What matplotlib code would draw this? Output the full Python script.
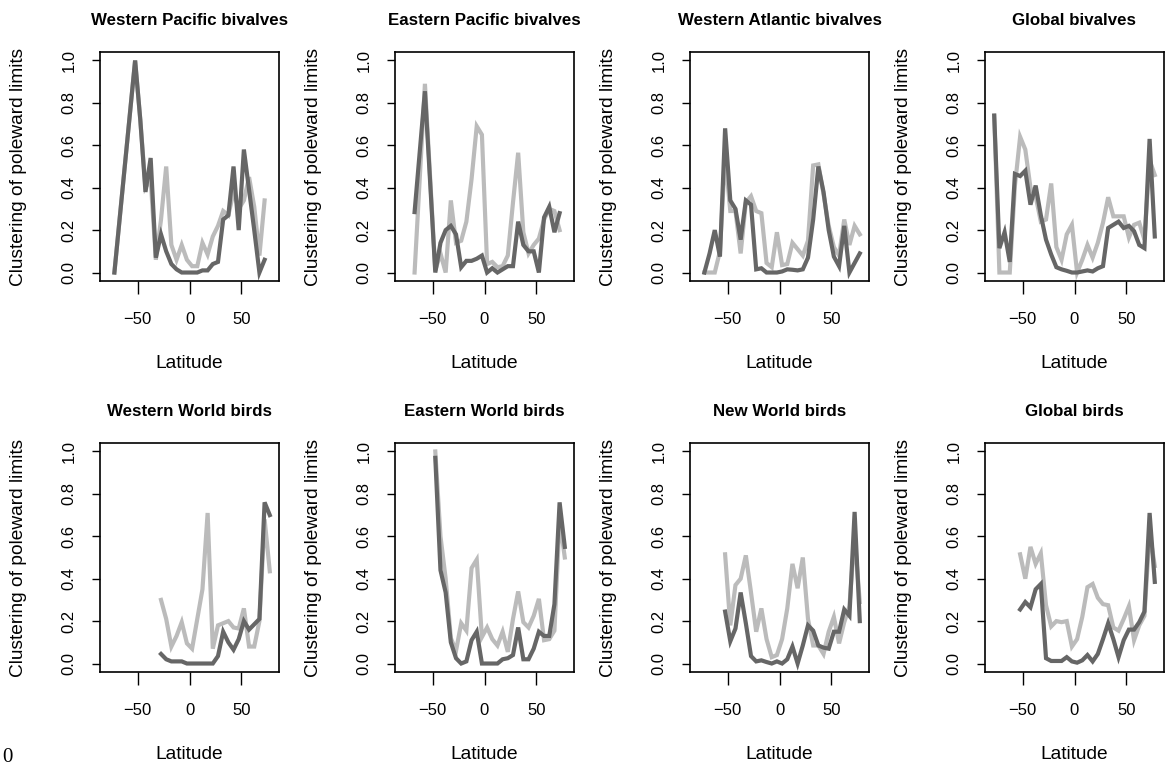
import matplotlib
matplotlib.use("Agg")
import matplotlib.pyplot as plt
import numpy as np

plt.rcParams['font.family'] = ['Liberation Sans', 'DejaVu Sans']

# 5-degree latitude bins
lat = [-77.5, -72.5, -67.5, -62.5, -57.5, -52.5, -47.5, -42.5, -37.5, -32.5,
       -27.5, -22.5, -17.5, -12.5, -7.5, -2.5, 2.5, 7.5, 12.5, 17.5,
       22.5, 27.5, 32.5, 37.5, 42.5, 47.5, 52.5, 57.5, 62.5, 67.5,
       72.5, 77.5]
N = None

titles = ["Western Pacific bivalves", "Eastern Pacific bivalves",
          "Western Atlantic bivalves", "Global bivalves",
          "Western World birds", "Eastern World birds",
          "New World birds", "Global birds"]

# light grey series
wp_light = [N, 0.0, N, N, N, 1.0, 0.72, 0.40, 0.44, 0.06, 0.25, 0.50, 0.13, 0.06, 0.13, 0.06,
            0.03, 0.03, 0.14, 0.085, 0.17, 0.22, 0.29, 0.27, 0.38, 0.30, 0.34, 0.45, 0.31, 0.08, 0.34, N]
ep_light = [N, N, 0.0, N, 0.89, N, 0.01, 0.09, 0.0, 0.34, 0.14, 0.15, 0.24, 0.44, 0.69, 0.65,
            0.04, 0.05, 0.025, 0.03, 0.08, 0.33, 0.565, 0.19, 0.09, 0.13, 0.16, 0.25, 0.30, 0.29, 0.20, N]
wa_light = [N, 0.0, 0.0, 0.0, 0.10, 0.55, 0.29, 0.29, 0.09, 0.33, 0.36, 0.29, 0.28, 0.045, 0.025, 0.19,
            0.035, 0.04, 0.14, 0.11, 0.08, 0.15, 0.505, 0.51, 0.37, 0.22, 0.12, 0.08, 0.25, 0.13, 0.22, 0.18]
gv_light = [0.74, 0.0, 0.0, 0.0, 0.41, 0.64, 0.58, 0.40, 0.36, 0.24, 0.25, 0.42, 0.12, 0.06, 0.18, 0.225,
            0.0, 0.06, 0.13, 0.07, 0.14, 0.235, 0.355, 0.265, 0.265, 0.265, 0.165, 0.225, 0.235, 0.155, 0.53, 0.46]
ww_light = [N, N, N, N, N, N, N, N, N, N, 0.30, 0.21, 0.08, 0.13, 0.195, 0.095,
            0.07, 0.21, 0.35, 0.71, 0.07, 0.18, 0.19, 0.20, 0.17, 0.165, 0.26, 0.08, 0.08, 0.20, 0.68, 0.435]
ew_light = [N, N, N, N, N, N, 1.0, 0.60, 0.40, 0.12, 0.06, 0.19, 0.155, 0.45, 0.49, 0.125,
            0.17, 0.115, 0.085, 0.15, 0.055, 0.21, 0.34, 0.195, 0.17, 0.225, 0.305, 0.11, 0.115, 0.155, 0.68, 0.50]
nw_light = [N, N, N, N, N, 0.515, 0.18, 0.37, 0.40, 0.51, 0.335, 0.15, 0.26, 0.115, 0.03, 0.04,
            0.115, 0.26, 0.47, 0.355, 0.50, 0.21, 0.085, 0.085, 0.045, 0.15, 0.22, 0.095, 0.195, 0.27, 0.60, 0.29]
gb_light = [N, N, N, N, N, 0.515, 0.40, 0.55, 0.47, 0.52, 0.275, 0.175, 0.20, 0.195, 0.20, 0.08,
            0.115, 0.22, 0.36, 0.375, 0.31, 0.28, 0.275, 0.17, 0.155, 0.21, 0.27, 0.11, 0.18, 0.225, 0.62, 0.46]

# dark grey series
wp_dark = [N, 0.0, N, N, N, 1.0, 0.72, 0.38, 0.54, 0.07, 0.18, 0.10, 0.04, 0.015, 0.0, 0.0,
           0.0, 0.0, 0.01, 0.01, 0.04, 0.05, 0.25, 0.27, 0.50, 0.20, 0.58, 0.39, 0.20, 0.0, 0.06, N]
ep_dark = [N, N, 0.285, N, 0.855, N, 0.0, 0.14, 0.20, 0.22, 0.18, 0.025, 0.055, 0.055, 0.065, 0.08,
           0.0, 0.02, 0.0, 0.015, 0.03, 0.03, 0.24, 0.13, 0.10, 0.10, 0.0, 0.26, 0.31, 0.19, 0.28, N]
wa_dark = [N, 0.0, 0.09, 0.20, 0.075, 0.68, 0.34, 0.30, 0.155, 0.34, 0.32, 0.015, 0.02, 0.0, 0.0, 0.0,
           0.005, 0.015, 0.013, 0.01, 0.015, 0.07, 0.25, 0.50, 0.38, 0.20, 0.075, 0.03, 0.22, 0.0, 0.045, 0.09]
gv_dark = [0.74, 0.115, 0.19, 0.05, 0.465, 0.455, 0.48, 0.32, 0.41, 0.27, 0.155, 0.085, 0.025, 0.015, 0.008, 0.0,
           0.0, 0.005, 0.01, 0.005, 0.02, 0.03, 0.21, 0.225, 0.24, 0.21, 0.22, 0.195, 0.13, 0.115, 0.63, 0.17]
ww_dark = [N, N, N, N, N, N, N, N, N, N, 0.045, 0.02, 0.01, 0.01, 0.01, 0.0,
           0.0, 0.0, 0.0, 0.0, 0.0, 0.035, 0.15, 0.10, 0.065, 0.115, 0.20, 0.16, 0.185, 0.21, 0.76, 0.70]
ew_dark = [N, N, N, N, N, N, 0.97, 0.44, 0.335, 0.10, 0.025, 0.0, 0.01, 0.11, 0.15, 0.0,
           0.0, 0.0, 0.0, 0.02, 0.025, 0.04, 0.17, 0.02, 0.02, 0.07, 0.15, 0.13, 0.13, 0.28, 0.76, 0.55]
nw_dark = [N, N, N, N, N, 0.245, 0.105, 0.165, 0.335, 0.19, 0.035, 0.01, 0.015, 0.007, 0.0, 0.01,
           0.0, 0.02, 0.08, 0.0, 0.085, 0.18, 0.155, 0.085, 0.075, 0.07, 0.15, 0.15, 0.255, 0.225, 0.715, 0.20]
gb_dark = [N, N, N, N, N, 0.255, 0.29, 0.265, 0.35, 0.375, 0.025, 0.012, 0.012, 0.012, 0.03, 0.01,
           0.004, 0.015, 0.04, 0.01, 0.045, 0.115, 0.19, 0.115, 0.03, 0.11, 0.16, 0.16, 0.195, 0.245, 0.71, 0.385]

light = [wp_light, ep_light, wa_light, gv_light, ww_light, ew_light, nw_light, gb_light]
dark = [wp_dark, ep_dark, wa_dark, gv_dark, ww_dark, ew_dark, nw_dark, gb_dark]

W, H = 1165, 767
fig = plt.figure(figsize=(W / 100, H / 100), dpi=100)

col_left = [100, 395, 690, 985]
row_top = [52, 443]
aw, ah = 179, 229


def clean(vals):
    x = np.array(lat, dtype=float)
    y = np.array([np.nan if v is None else v for v in vals], dtype=float)
    ok = ~np.isnan(y)
    return x[ok], y[ok]


for i in range(8):
    r, c = divmod(i, 4)
    ax = fig.add_axes([col_left[c] / W, 1 - (row_top[r] + ah) / H, aw / W, ah / H])
    x, y = clean(light[i])
    ax.plot(x, y, color="#bbbbbb", lw=3, solid_joinstyle="miter")
    x, y = clean(dark[i])
    ax.plot(x, y, color="#666666", lw=3, solid_joinstyle="miter")

    ax.set_xlim(-86.4, 86.4)
    ax.set_ylim(-0.04, 1.04)
    ax.set_xticks([-50, 0, 50])
    ax.set_yticks([0, 0.2, 0.4, 0.6, 0.8, 1.0])
    ax.set_yticklabels(["0.0", "0.2", "0.4", "0.6", "0.8", "1.0"])
    ax.tick_params(axis="x", length=9, width=1, pad=13, labelsize=12)
    ax.tick_params(axis="y", length=6, width=1, pad=11, labelsize=12)
    for lbl in ax.get_yticklabels():
        lbl.set_rotation(90)
        lbl.set_va("center")
        lbl.set_ha("right")
    for s in ax.spines.values():
        s.set_linewidth(1.2)

    ax.set_title(titles[i], fontsize=12.2, fontweight="bold", pad=19.5)
    ax.set_xlabel("Latitude", fontsize=13.8)
    ax.xaxis.set_label_coords(0.5, -0.325)
    ax.set_ylabel("Clustering of poleward limits", fontsize=13.8)
    ax.yaxis.set_label_coords(-0.408, 0.5)

# stray character at the bottom-left corner of the source figure
fig.text(2 / W, 1 - 762 / H, "0", family="Liberation Serif", fontsize=15,
         ha="left", va="baseline")

plt.savefig("out.png", dpi=100)
